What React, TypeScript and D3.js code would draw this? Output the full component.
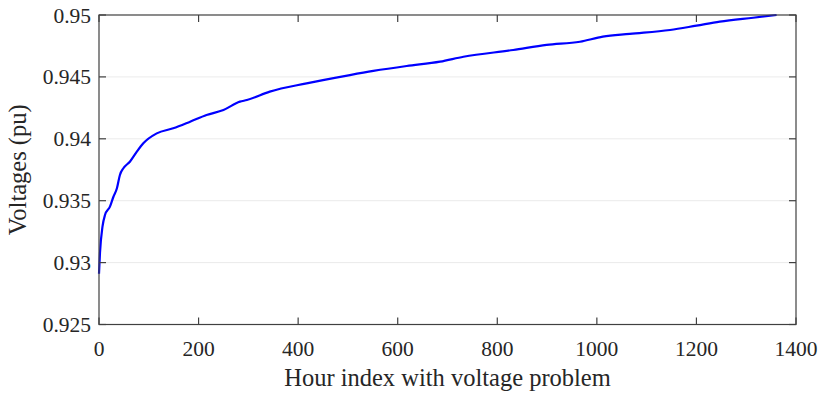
import React from "react";
import * as d3 from "d3";

const hourIndex = [0, 2, 7, 12, 22, 29, 36, 42, 49, 62, 76, 89, 116, 149, 183, 216, 250, 283, 297, 343, 417, 504, 551, 618, 685, 732, 832, 899, 966, 1012, 1066, 1147, 1200, 1247, 1314, 1361];
const voltages = [0.9291, 0.9308, 0.9329, 0.93384, 0.93452, 0.93532, 0.936, 0.93708, 0.93762, 0.93815, 0.93896, 0.93964, 0.94044, 0.94085, 0.94138, 0.94192, 0.94233, 0.943, 0.94313, 0.94381, 0.94448, 0.94515, 0.94548, 0.94588, 0.94623, 0.94663, 0.94717, 0.94758, 0.94784, 0.94825, 0.94847, 0.94879, 0.94914, 0.94946, 0.94978, 0.95];
const xTicks = [0, 200, 400, 600, 800, 1000, 1200, 1400];
const yTicks = [0.925, 0.93, 0.935, 0.94, 0.945, 0.95];
const yTickLabels = ["0.925", "0.93", "0.935", "0.94", "0.945", "0.95"];

const W = 820, H = 394;
const L = 99, R = 796, T = 15, B = 324.5;
const axisColor = "#404040";
const textColor = "#262626";
const font = "Liberation Serif, DejaVu Serif, serif";

export default function App() {
  const x = d3.scaleLinear().domain([0, 1400]).range([L, R]);
  const y = d3.scaleLinear().domain([0.925, 0.95]).range([B, T]);
  const line = d3.line<number>().x((_, i) => x(hourIndex[i])).y((v) => y(v)).curve(d3.curveMonotoneX);
  const tl = 7;
  const ts: React.CSSProperties = { fontFamily: font };
  return (
    <svg width={W} height={H} style={{ position: "absolute", left: 0, top: 0, background: "#fff" }}>
      <rect x={0} y={0} width={W} height={H} fill="#fff" />
      {yTicks.slice(1, -1).map((t) => (
        <line key={"g" + t} x1={L} x2={R} y1={y(t)} y2={y(t)} stroke="#ebebeb" strokeWidth={1} />
      ))}
      <path d={line(voltages) || ""} fill="none" stroke="#0000ff" strokeWidth={2.2} />
      <rect x={L} y={T} width={R - L} height={B - T} fill="none" stroke={axisColor} strokeWidth={1.2} />
      {xTicks.map((t) => (
        <g key={"x" + t}>
          <line x1={x(t)} x2={x(t)} y1={B} y2={B - tl} stroke={axisColor} strokeWidth={1.2} />
          <line x1={x(t)} x2={x(t)} y1={T} y2={T + tl} stroke={axisColor} strokeWidth={1.2} />
          <text x={x(t)} y={356} textAnchor="middle" style={ts} fontSize={21.5} fill={textColor}>{t}</text>
        </g>
      ))}
      {yTicks.map((t, i) => (
        <g key={"y" + t}>
          <line x1={L} x2={L + tl} y1={y(t)} y2={y(t)} stroke={axisColor} strokeWidth={1.2} />
          <line x1={R} x2={R - tl} y1={y(t)} y2={y(t)} stroke={axisColor} strokeWidth={1.2} />
          <text x={L - 8} y={y(t)} dy="0.35em" textAnchor="end" style={ts} fontSize={21.5} fill={textColor}>{yTickLabels[i]}</text>
        </g>
      ))}
      <text x={(L + R) / 2} y={386} textAnchor="middle" style={ts} fontSize={24.5} fill={textColor}>Hour index with voltage problem</text>
      <text transform={`translate(26, ${(T + B) / 2}) rotate(-90)`} textAnchor="middle" style={ts} fontSize={24.5} fill={textColor}>Voltages (pu)</text>
    </svg>
  );
}
